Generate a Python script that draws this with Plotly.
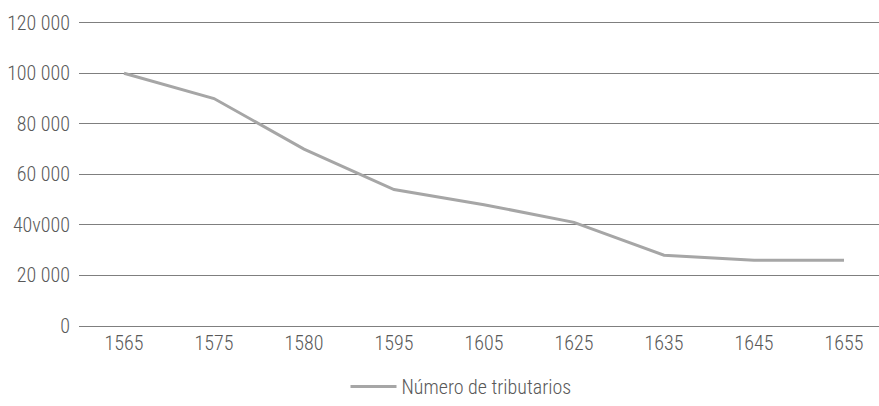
import plotly.graph_objects as go

years = ["1565", "1575", "1580", "1595", "1605", "1625", "1635", "1645", "1655"]
tributarios = [100000, 90000, 70000, 54000, 48000, 41000, 28000, 26000, 26000]
y_tickvals = [0, 20000, 40000, 60000, 80000, 100000, 120000]
y_ticktext = ["0", "20 000", "40v000", "60 000", "80 000", "100 000", "120 000"]
series_name = "Número de tributarios"

FONT = "Roboto Condensed, Liberation Sans Narrow, Arial Narrow, sans-serif"

fig = go.Figure()
fig.add_trace(go.Scatter(
    x=list(range(len(years))), y=tributarios, mode="lines", name=series_name,
    line=dict(color="#a6a6a6", width=3),
))

fig.update_layout(
    width=879, height=406,
    margin=dict(l=79, r=0, t=20, b=80),
    paper_bgcolor="white", plot_bgcolor="white",
    font=dict(family=FONT, size=20, color="#595959", weight=300),
    showlegend=True,
    legend=dict(orientation="h", x=0.4775, xanchor="center",
                yref="container", y=0.0, yanchor="bottom",
                itemwidth=46, bgcolor="rgba(0,0,0,0)",
                font=dict(family=FONT, size=20, color="#595959", weight=300)),
    xaxis=dict(
        tickmode="array", tickvals=list(range(len(years))), ticktext=years,
        range=[-0.5, 8.389], showgrid=False, zeroline=False, showline=False,
        ticks="", ticklabelstandoff=3,
    ),
    yaxis=dict(
        tickmode="array", tickvals=y_tickvals, ticktext=y_ticktext,
        range=[0, 121070], showgrid=True, gridcolor="#7f7f7f", gridwidth=1,
        zeroline=True, zerolinecolor="#7f7f7f", zerolinewidth=1,
        showline=False, ticks="", ticklabelstandoff=8,
    ),
)

fig.write_html("out.html", config={"displayModeBar": False},
               post_script="document.body.style.margin='0px';document.body.style.overflow='hidden';")
